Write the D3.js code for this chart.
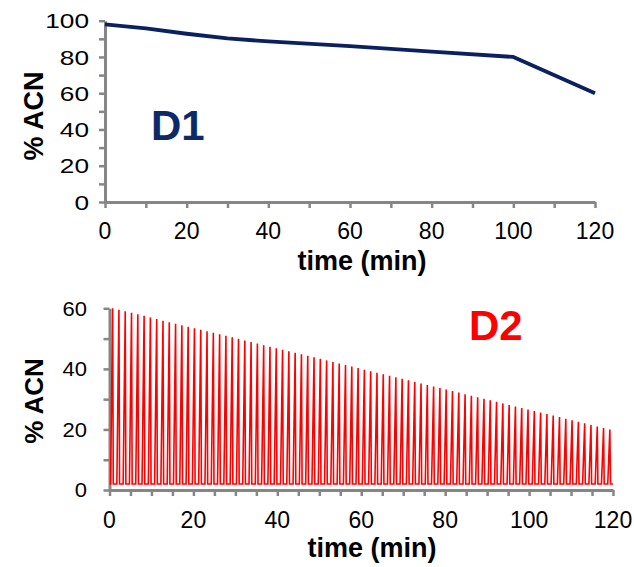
<!DOCTYPE html>
<html>
<head>
<meta charset="utf-8">
<script src="https://cdn.jsdelivr.net/npm/d3@7"></script>
<style>
  html, body { margin: 0; padding: 0; background: #fff; }
  svg { display: block; }
  text { font-family: "Liberation Sans", Arial, sans-serif; }
</style>
</head>
<body>
<svg id="chart" width="634" height="567"></svg>
<script>
// ---- D1 gradient (top panel) ----
const d1Time = [0, 10, 20, 30, 40, 60, 80, 100, 120];
const d1ACN  = [98, 95.8, 92.8, 90.2, 88.6, 86.0, 83.0, 80, 60];

// ---- D2 repeated gradients (bottom panel): peak time and peak %ACN of each cycle ----
const d2PeakTime = [0.75, 2.25, 3.75, 5.25, 6.75, 8.25, 9.75, 11.25, 12.75, 14.25,
  15.75, 17.25, 18.75, 20.25, 21.75, 23.25, 24.75, 26.25, 27.75, 29.25,
  30.75, 32.25, 33.75, 35.25, 36.75, 38.25, 39.75, 41.25, 42.75, 44.25,
  45.75, 47.25, 48.75, 50.25, 51.75, 53.25, 54.75, 56.25, 57.75, 59.25,
  60.75, 62.25, 63.75, 65.25, 66.75, 68.25, 69.75, 71.25, 72.75, 74.25,
  75.75, 77.25, 78.75, 80.25, 81.75, 83.25, 84.75, 86.25, 87.75, 89.25,
  90.75, 92.25, 93.75, 95.25, 96.75, 98.25, 99.75, 101.25, 102.75, 104.25,
  105.75, 107.25, 108.75, 110.25, 111.75, 113.25, 114.75, 116.25, 117.75, 119.25];
const d2PeakACN = [60.0, 59.5, 59.0, 58.5, 58.0, 57.5, 57.0, 56.5, 55.9, 55.4,
  54.9, 54.4, 53.9, 53.4, 52.9, 52.4, 51.9, 51.4, 50.9, 50.4,
  49.9, 49.4, 48.9, 48.4, 47.8, 47.3, 46.8, 46.3, 45.8, 45.3,
  44.8, 44.3, 43.8, 43.3, 42.8, 42.3, 41.8, 41.3, 40.8, 40.3,
  39.7, 39.2, 38.7, 38.2, 37.7, 37.2, 36.7, 36.2, 35.7, 35.2,
  34.7, 34.2, 33.7, 33.2, 32.7, 32.2, 31.6, 31.1, 30.6, 30.1,
  29.6, 29.1, 28.6, 28.1, 27.6, 27.1, 26.6, 26.1, 25.6, 25.1,
  24.6, 24.1, 23.5, 23.0, 22.5, 22.0, 21.5, 21.0, 20.5, 20.0];
const d2BaseACN = 2;      // starting %ACN of every cycle
const d2RiseMin = 0.5;    // duration of each gradient ramp (min)
const d2DropMin = 0.15;   // duration of the drop back (min)

const d1YTicks = [0, 20, 40, 60, 80, 100];
const d2YTicks = [0, 20, 40, 60];
const xTicks = [0, 20, 40, 60, 80, 100, 120];
const xTitle = "time (min)";
const yTitle = "% ACN";

const svg = d3.select("#chart");
const axisColor = "#868686";

function panel(cfg) {
  const x = d3.scaleLinear().domain([0, 120]).range([cfg.x0, cfg.x1]);
  const y = d3.scaleLinear().domain([0, cfg.yMax]).range([cfg.y0, cfg.y1]);

  const g = svg.append("g");

  // axes with tick marks (every 10 on y, every cfg.xMinor on x)
  const minorX = d3.range(0, 120.001, cfg.xMinor);
  const minorY = d3.range(0, cfg.yMax + 0.001, 10);
  const ax = g.append("g").attr("transform", `translate(0,${cfg.y0})`)
    .call(d3.axisBottom(x).tickValues(minorX).tickFormat("").tickSize(6).tickSizeOuter(0));
  const ay = g.append("g").attr("transform", `translate(${cfg.x0},0)`)
    .call(d3.axisLeft(y).tickValues(minorY).tickFormat("").tickSize(6).tickSizeOuter(0));
  [ax, ay].forEach(a => {
    a.select(".domain").attr("stroke", axisColor).attr("stroke-width", 3);
    a.selectAll(".tick line").attr("stroke", axisColor).attr("stroke-width", 2.5);
  });

  // tick labels
  g.append("g").selectAll("text").data(xTicks).join("text")
    .attr("x", d => x(d)).attr("y", cfg.xLblBase)
    .attr("text-anchor", "middle").attr("font-size", cfg.xLblSize).attr("fill", "#000")
    .text(d => d);
  g.append("g").selectAll("text").data(cfg.yTicks).join("text")
    .attr("transform", d => `translate(${cfg.yLblRight},${y(d)}) scale(${cfg.yLblScale},1)`)
    .attr("dy", "0.36em")
    .attr("text-anchor", "end").attr("font-size", cfg.yLblSize).attr("fill", "#000")
    .text(d => d);

  g.append("text").attr("x", cfg.xtX).attr("y", cfg.xtY)
    .attr("text-anchor", "middle").attr("font-size", 27).attr("font-weight", "bold")
    .text(xTitle);
  g.append("text")
    .attr("transform", `translate(${cfg.ytX},${cfg.ytY}) rotate(-90)`)
    .attr("text-anchor", "middle").attr("font-size", cfg.ytSize).attr("font-weight", "bold")
    .text(yTitle);

  g.append("text").attr("x", cfg.lblX).attr("y", cfg.lblY)
    .attr("font-size", 42).attr("font-weight", "bold").attr("fill", cfg.lblColor)
    .text(cfg.lbl);
  return { x, y, g };
}

// ---- top panel ----
const p1 = panel({ x0: 105, x1: 595, y0: 202, y1: 20.7, yMax: 100, xMinor: 10,
  yTicks: d1YTicks, xLblBase: 239, xLblSize: 23, yLblRight: 89, yLblSize: 21, yLblScale: 1.25,
  xtX: 362, xtY: 270, ytX: 43, ytY: 116, ytSize: 27,
  lbl: "D1", lblX: 151, lblY: 140, lblColor: "#0c2a6a" });
const d1 = d1Time.map((t, i) => [t, d1ACN[i]]);
p1.g.append("path").datum(d1)
  .attr("fill", "none").attr("stroke", "#0a2060").attr("stroke-width", 3.8)
  .attr("stroke-linejoin", "round")
  .attr("d", d3.line().x(d => p1.x(d[0])).y(d => p1.y(d[1])));

// ---- bottom panel ----
const p2 = panel({ x0: 109.5, x1: 613, y0: 490, y1: 308.3, yMax: 60, xMinor: 5,
  yTicks: d2YTicks, xLblBase: 528, xLblSize: 23, yLblRight: 87, yLblSize: 20, yLblScale: 1.1,
  xtX: 372, xtY: 557, ytX: 43, ytY: 401, ytSize: 26,
  lbl: "D2", lblX: 469, lblY: 340, lblColor: "#ff0000" });
const d2 = [[0, d2BaseACN]];
d2PeakTime.forEach((t, i) => {
  d2.push([t - d2RiseMin, d2BaseACN]);
  d2.push([t, d2PeakACN[i]]);
  d2.push([t + d2DropMin, d2BaseACN]);
});
d2.push([120, d2BaseACN]);
p2.g.append("path").datum(d2)
  .attr("fill", "none").attr("stroke", "#ff0000").attr("stroke-width", 1.6)
  .attr("stroke-linejoin", "miter")
  .attr("d", d3.line().x(d => p2.x(d[0])).y(d => p2.y(d[1])));
</script>
</body>
</html>
